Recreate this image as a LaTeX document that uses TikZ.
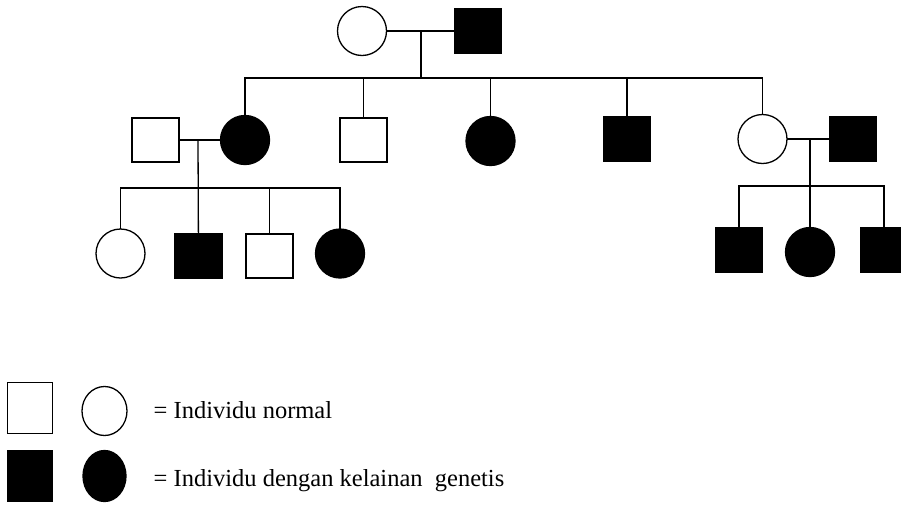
\documentclass[tikz,border=0pt]{standalone}
\usepackage{fontspec}
\setmainfont{Liberation Serif}
\usetikzlibrary{shapes.geometric}

\begin{document}
\begin{tikzpicture}[x=1pt,y=-1pt,line width=1.3pt]
    \tikzset{male/.style = {shape=rectangle, draw, inner sep=0pt, outer sep=0pt, minimum width=47pt, minimum height=44pt}}
    \tikzset{female/.style = {shape=circle, draw, inner sep=0pt, outer sep=0pt, minimum size=49pt}}
    \tikzset{sick/.style = {fill=black}}
    \tikzset{keybox/.style = {shape=rectangle, draw, inner sep=0pt, minimum width=45pt, minimum height=51pt}}
    \tikzset{keyoval/.style = {shape=ellipse, draw, inner sep=0pt, minimum width=45pt, minimum height=49pt}}
    \tikzset{keytext/.style = {anchor=base west, inner sep=0pt, font=\fontsize{24.5}{29}\selectfont}}

    \clip (0,0) rectangle (901,504);

    % first generation
    \node[female] (p1) at (362,31) {};
    \node[male,sick] (p2) at (478,31) {};
    \coordinate (m1) at (421,31);
    \coordinate (s1) at (421,78);

    % second generation
    \node[male] (h1) at (155.5,140) {};
    \node[female,sick] (c1) at (245,140) {};
    \node[male] (c2) at (363.5,140) {};
    \node[female,sick] (c3) at (490.5,141) {};
    \node[male,sick] (c4) at (627,139) {};
    \node[female] (c5) at (762.5,139) {};
    \node[male,sick] (h2) at (853,139) {};
    \coordinate (m2) at (198,140);
    \coordinate (s2) at (198,188);
    \coordinate (m3) at (810,139);
    \coordinate (s3) at (810,186);

    % third generation
    \node[female] (k1) at (120.5,253.5) {};
    \node[male,sick] (k2) at (198.5,256) {};
    \node[male] (k3) at (269.5,256) {};
    \node[female,sick] (k4) at (340,253.5) {};
    \node[male,sick] (k5) at (739,250) {};
    \node[female,sick] (k6) at (810,252) {};
    \node[male,sick] (k7) at (884,250) {};

    % edges
    \draw (p1) -- (p2);
    \draw (m1) -- (s1);
    \draw (c1) -- (c1 |- s1) -- (c5 |- s1) -- (c5);
    \draw (c2) -- (c2 |- s1);
    \draw (c3) -- (c3 |- s1);
    \draw (c4) -- (c4 |- s1);

    \draw (h1) -- (c1);
    \draw (m2) -- (k2);
    \draw (k1) -- (k1 |- s2) -- (k4 |- s2) -- (k4);
    \draw (k3) -- (k3 |- s2);

    \draw (c5) -- (h2);
    \draw (m3) -- (k6);
    \draw (k5) -- (k5 |- s3) -- (k7 |- s3) -- (k7);

    % legend
    \node[keybox] (n1) at (30,408) {};
    \node[keyoval] (n2) at (104.5,411) {};
    \node[keybox,sick] (a1) at (30,476) {};
    \node[keyoval,sick,minimum width=43pt,minimum height=51pt] (a2) at (104.5,476) {};
    \node[keytext] (t1) at (153,418) {= Individu normal};
    \node[keytext] (t2) at (153,486) {= Individu dengan kelainan\ \ genetis};
\end{tikzpicture}
\end{document}
